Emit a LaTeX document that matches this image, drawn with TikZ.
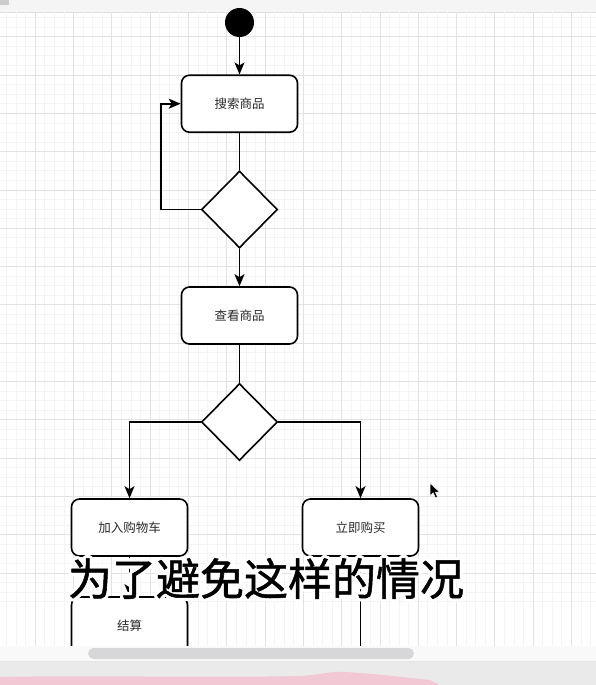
\documentclass[tikz,border=0pt]{standalone}
\usepackage{fontspec}
\usepackage{tikz}
\usepackage{contour}
\usetikzlibrary{arrows.meta, shapes.geometric, positioning}
\newfontfamily\cjk{Noto Sans CJK SC}
\newfontfamily\cjksub[FakeBold=1.2]{Noto Sans CJK SC}
\definecolor{gridminor}{HTML}{F4F4F4}
\definecolor{gridmajor}{HTML}{E2E2E2}
\definecolor{labelgray}{HTML}{2A2A2A}
\definecolor{barbg}{HTML}{EAEAEB}
\definecolor{scroll}{HTML}{D7D7D9}
\definecolor{pinkband}{HTML}{F2C8D5}
\contourlength{3pt}
\contournumber{24}

\tikzset{
  act/.style={draw, line width=1.6pt, rounded corners=8pt, fill=white,
    minimum width=116pt, minimum height=57pt, inner sep=0pt,
    font=\cjk\fontsize{12.5}{14}\selectfont, text=labelgray},
  choice/.style={draw, diamond, line width=1.6pt, fill=white,
    minimum width=76pt, minimum height=77pt, inner sep=0pt},
  flow/.style={line width=1.6pt, -{Stealth[length=12pt, width=10pt, inset=3pt]}},
  plain/.style={line width=1.6pt}
}

\begin{document}
\begin{tikzpicture}[x=1pt, y=-1pt]
        \useasboundingbox (0,0) rectangle (596,685);
        \fill[white] (0,0) rectangle (596,685);

        % toolbar
        \fill[gray!8] (0,0) rectangle (596,12);
        \draw[gray!25] (0,12) -- (596,12);
        \fill[gray!40] (0,0) rectangle (9,5);

        % grid of the canvas
        \begin{scope}
          \clip (0,12.5) rectangle (596,646);
          \foreach \i in {0,...,62} {
            \draw[gridminor, line width=0.7pt] ({6.475+9.575*\i},12) -- ++(0,634);
            \draw[gridminor, line width=0.7pt] (0,{7.975+9.575*\i}) -- ++(596,0);
          }
          \foreach \i in {0,...,15} {
            \draw[gridmajor, line width=0.8pt] ({35.2+38.3*(\i-1)},12) -- ++(0,634);
            \draw[gridmajor, line width=0.8pt] (0,{36.7+38.3*(\i-1)}) -- ++(596,0);
          }
        \end{scope}

        % diagram
        \begin{scope}
          \clip (0,8) rectangle (596,646);
          \node[circle, fill=black, minimum size=29pt, inner sep=0pt] (start) at (239.5,22.5) {};
          \node[act] (search) at (239.5,103.7) {搜索商品};
          \node[choice] (dec1) at (239.5,209.5) {};
          \node[act] (view) at (239.5,315.5) {查看商品};
          \node[choice] (dec2) at (239.5,422) {};
          \node[act] (cart) at (129.5,527.5) {加入购物车};
          \node[act] (buy) at (360.5,527.5) {立即购买};
          \node[act] (pay) at (129.5,625.5) {结算};
          \coordinate (buyout) at (360.5,670);

          \draw[flow] (start) -- (search);
          \draw[flow] (dec1.west) -- ++(-39.5,0) |- (search.west);
          \draw[plain] (search.south) -- (dec1.north);
          \draw[flow] (dec1.south) -- (view.north);
          \draw[plain] (view.south) -- (dec2.north);
          \draw[flow] (dec2.west) -| (cart.north);
          \draw[flow] (dec2.east) -| (buy.north);
          \draw[flow] (cart.south) -- (pay.north);
          \draw[plain] (buy.south) -- (buyout);
        \end{scope}

        % mouse pointer
        \fill[black, draw=white, line width=0.5pt] (430,483) -- (430,496) -- (433.2,492.8)
          -- (435.5,498) -- (437.5,497) -- (435.3,492) -- (439.5,492) -- cycle;

        % subtitle
        \node[font=\cjksub\fontsize{44}{48}\selectfont, text=black, inner sep=0pt] (subtitle)
          at (266,580) {\contour{white}{为了避免这样的情况}};

        % bottom bar
        \fill[gray!5] (0,646) rectangle (596,661);
        \fill[barbg] (0,661) rectangle (596,685);
        \draw[gray!20] (0,661) -- (596,661);
        \fill[scroll, rounded corners=5.5pt] (88,648) rectangle (414,659);
        \fill[pinkband] (0,685) -- (0,677) .. controls (90,675) and (200,678) .. (300,676)
          .. controls (320,675) and (330,671) .. (345,672)
          .. controls (380,674) and (400,677) .. (430,680) -- (440,685) -- cycle;

\end{tikzpicture}
\end{document}
